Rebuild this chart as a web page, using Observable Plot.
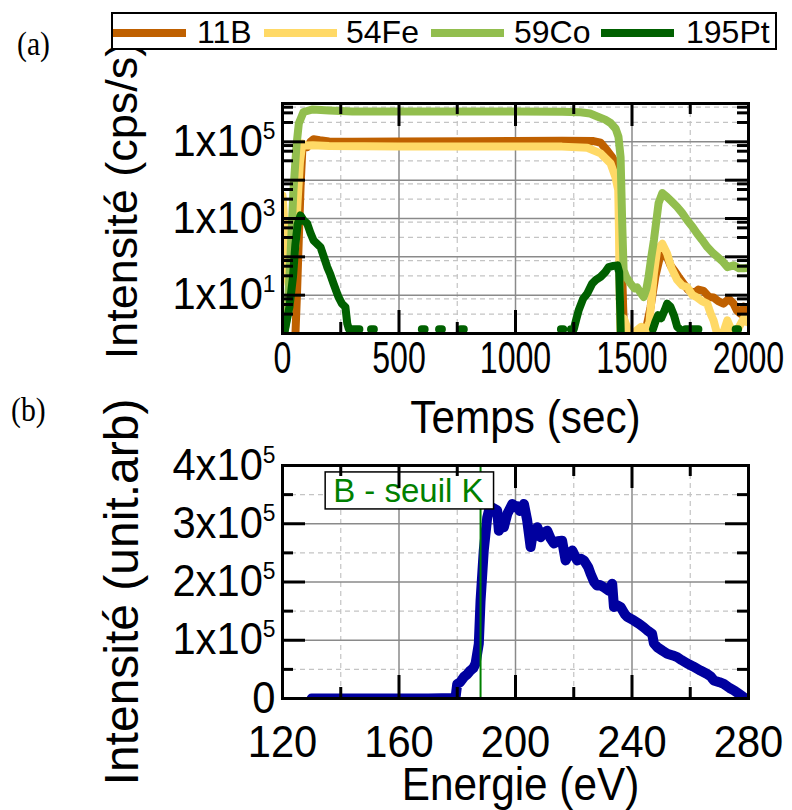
<!DOCTYPE html>
<html><head><meta charset="utf-8">
<script src="https://cdn.jsdelivr.net/npm/d3@7"></script>
<script src="https://cdn.jsdelivr.net/npm/@observablehq/plot@0.6"></script>
<style>
body{margin:0;background:#fff;}
#wrap{position:relative;width:792px;height:810px;overflow:hidden;font-family:"Liberation Sans",Arial,sans-serif;background:#fff;}
#wrap svg{position:absolute;left:0;top:0;overflow:visible;background:transparent;}
.panel{position:absolute;font-family:"Liberation Serif","Times New Roman",serif;font-size:33px;line-height:33px;transform-origin:0 0;transform:scaleX(0.9);}
#legend{position:absolute;left:111px;top:12px;width:662px;height:34px;border:2px solid #000;background:#fff;}
.sw{position:absolute;height:8px;top:15px;}
.lb{position:absolute;top:2px;font-size:32px;line-height:32px;color:#000;white-space:nowrap;}
</style></head>
<body><div id="wrap"></div>
<script>
// ---------- data : panel (a) SIMS depth profile ----------
const seriesNames = ["11B", "54Fe", "59Co", "195Pt"];
const seriesColors = ["#bf6000", "#ffd966", "#92be4e", "#006000"];
const s11B = [[0,0.3],[55,0.8],[62,10],[70,300],[78,8000],[85,6e4],[95,8e4],[106,7.3e4],[120,1e5],[133,1.17e5],[160,1.1e5],[200,1.02e5],[300,1e5],[500,1.02e5],[800,1.03e5],[1000,1.05e5],[1200,1.07e5],[1335,1.05e5],[1365,9.5e4],[1393,6e4],[1415,4e4],[1429,2.75e4],[1440,1.5e4],[1450,2000],[1456,100],[1462,5],[1468,0.5],[1555,0.5],[1565,1.8],[1580,5],[1600,30],[1620,100],[1637,150],[1650,100],[1665,60],[1680,45],[1700,30],[1721,20],[1740,14],[1764,11],[1785,14],[1807,13],[1830,9],[1850,8.7],[1870,7],[1893,6],[1915,8],[1936,6],[1950,4],[1966,3.3],[1980,5],[1995,4]];
const s54Fe = [[0,4000],[5,1500],[10,300],[15,60],[25,20],[40,30],[55,200],[65,3000],[75,3e4],[85,9e4],[100,8e4],[130,8.2e4],[200,7.8e4],[500,7.6e4],[1000,7.6e4],[1200,7.5e4],[1308,7e4],[1365,5e4],[1408,2.75e4],[1429,1.2e4],[1441,5500],[1444,500],[1447,10],[1450,1.2],[1465,2.5],[1478,1.5],[1490,0.8],[1505,0.5],[1520,1.2],[1540,1.5],[1560,1.2],[1575,2],[1594,37],[1608,150],[1630,220],[1651,120],[1670,50],[1694,25],[1715,18],[1737,16],[1760,10],[1780,8.7],[1800,7],[1823,6],[1840,3],[1850,2.2],[1865,1],[1880,0.7],[1895,1.2],[1909,2.2],[1925,1.3],[1940,0.8],[1960,1.5],[1980,2.5],[1995,2]];
const s59Co = [[0,0.6],[12,1.5],[21,3],[34,100],[47,5500],[60,8e4],[70,3e5],[90,6e5],[130,7e5],[200,6.6e5],[300,6.2e5],[500,6.2e5],[800,6.2e5],[1000,6.2e5],[1200,6.1e5],[1279,5.9e5],[1320,5.5e5],[1351,4.6e5],[1385,3.8e5],[1408,3.1e5],[1430,2.2e5],[1442,1.35e5],[1451,4e4],[1458,740],[1464,45],[1475,30],[1494,20],[1510,15],[1522,16],[1535,12],[1550,9],[1562,15],[1571,30],[1583,100],[1594,270],[1614,2500],[1630,4600],[1651,3600],[1670,2800],[1694,2000],[1715,1400],[1737,900],[1760,600],[1780,400],[1800,280],[1823,180],[1845,130],[1866,100],[1890,75],[1909,54],[1936,60],[1960,50],[1979,50],[1995,52]];
const s195Pt = [[0,0.5],[10,1.2],[30,5],[45,30],[55,200],[65,700],[77,1200],[90,900],[106,740],[120,420],[133,270],[163,180],[180,90],[192,54],[205,35],[219,20],[240,9],[255,6],[270,4.9],[278,1.8],[285,1.3],[300,1.3],[315,1.3],[330,1.3],[340,null],[380,1.3],[392,1.3],[400,null],[598,1.3],[610,1.3],[620,null],[672,1.3],[684,1.3],[690,null],[765,1.3],[778,1.3],[785,null],[1195,1.3],[1205,1.3],[1215,null],[1238,1.3],[1250,1.3],[1262,2.5],[1271,4],[1290,8],[1308,11],[1329,20],[1345,25],[1365,30],[1385,40],[1400,54],[1420,58],[1437,60],[1445,40],[1450,3],[1453,0.5],[1460,null],[1590,1.3],[1600,2],[1612,3],[1625,2.5],[1640,4],[1651,6],[1665,5],[1680,3],[1694,1.5],[1705,1.3],[1712,null],[1730,1.3],[1785,1.3],[1790,null],[1945,1.3],[1955,1.3]];
const timeTicks = [0, 500, 1000, 1500, 2000];
const timeMinorTicks = [250, 750, 1250, 1750];
const decadeTicks = [1, 10, 100, 1e3, 1e4, 1e5, 1e6];
const decadeLabelTicks = [10, 1e3, 1e5];
const decadeMinorFactors = [3.2, 5.7, 8];
const decadeGridFactors = [3.2, 8];

// ---------- data : panel (b) B K-edge spectrum ----------
const energy = [130,140,150,160,170,179.4,180,181,182.3,183.5,184.5,185.5,186.3,187.4,188,189.1,190.3,191,192,193.7,194.3,195,196,197.2,198.9,200,200.6,201.5,202.9,204,205.2,206,207.5,208.6,210,210.9,212,213.2,214.5,216,217.2,218.5,219.5,221.2,222.5,223.5,225,225.8,227,228,229,230.3,232,233.2,233.8,235,236.1,237.5,238.4,240.6,242.5,244.1,245.5,246.9,247.5,248.7,250.5,252.1,254,255.5,257,259,261,263.5,265.8,267,268.1,270,271.5,273.5,275,277,278.4];
const intensity = [0,0,0,0,0,0.01e5,0.25e5,0.28e5,0.37e5,0.42e5,0.48e5,0.52e5,0.6e5,0.94e5,1.68e5,2.54e5,3.11e5,3.25e5,3.28e5,3.23e5,2.88e5,2.95e5,2.94e5,3.17e5,3.34e5,3.28e5,3.3e5,3.22e5,3.34e5,3.06e5,2.6e5,2.85e5,2.94e5,2.77e5,2.85e5,2.88e5,2.75e5,2.66e5,2.7e5,2.71e5,2.37e5,2.5e5,2.54e5,2.37e5,2.4e5,2.37e5,2.25e5,2.14e5,2.0e5,1.94e5,1.95e5,1.91e5,1.85e5,1.97e5,1.57e5,1.6e5,1.57e5,1.45e5,1.4e5,1.34e5,1.28e5,1.22e5,1.16e5,1.11e5,0.95e5,0.88e5,0.82e5,0.77e5,0.74e5,0.71e5,0.66e5,0.6e5,0.55e5,0.48e5,0.42e5,0.38e5,0.31e5,0.28e5,0.25e5,0.18e5,0.14e5,0.07e5,0.02e5];
const edgeEnergy = [188];
const edgeLabel = ["B - seuil K"];
const energyTicks = [120, 160, 200, 240, 280];
const energyMinorTicks = [140, 180, 220, 260];
const intTicks = [0, 1e5, 2e5, 3e5, 4e5];
const intMinorTicks = [0.5e5, 1.5e5, 2.5e5, 3.5e5];

// ---------- layout ----------
const W = 792, H = 810;
const A = {top: 103, bottom: 333, left: 282, right: 748};
const B = {top: 465, bottom: 698, left: 282, right: 748};
const FONT = '"Liberation Sans", Arial, sans-serif';
const MAJ = 23, MIN = 11;
// distinct sizes identify the text groups for post-processing
const XTICK_A_FS = 44, TICK_FS = 43.9, TITLE_FS = 47, YTITLE_FS = 45, YTITLE_B_FS = 48, EDGE_FS = 33;

function frameTicks(P, xMaj, xMin, yMaj, yMin) {
  const iw = P.right - P.left, ih = P.bottom - P.top;
  const o = {stroke: "black", strokeWidth: 3};
  return [
    Plot.tickX(xMaj, {x: d => d, insetTop: ih - MAJ, ...o}),
    Plot.tickX(xMaj, {x: d => d, insetBottom: ih - MAJ, ...o}),
    Plot.tickX(xMin, {x: d => d, insetTop: ih - MIN, ...o}),
    Plot.tickX(xMin, {x: d => d, insetBottom: ih - MIN, ...o}),
    Plot.tickY(yMaj, {y: d => d, insetRight: iw - MAJ, ...o}),
    Plot.tickY(yMaj, {y: d => d, insetLeft: iw - MAJ, ...o}),
    Plot.tickY(yMin, {y: d => d, insetRight: iw - MIN, ...o}),
    Plot.tickY(yMin, {y: d => d, insetLeft: iw - MIN, ...o})
  ];
}

// ---------- panel (a) ----------
const rowsA = [];
[s11B, s54Fe, s59Co, s195Pt].forEach((s, k) => s.forEach(([t, v]) => rowsA.push({t, v, s: seriesNames[k]})));
const logMinor = decadeTicks.slice(0, -1).flatMap(d => decadeMinorFactors.map(f => d * f));
const logGrid = decadeTicks.slice(0, -1).flatMap(d => decadeGridFactors.map(f => d * f));
const gridSolid = {stroke: "#8a8a8a", strokeWidth: 1.5, strokeOpacity: 1};
const gridDash = {stroke: "#c4c4c4", strokeWidth: 1.2, strokeDasharray: "5,4", strokeOpacity: 1};

const plotA = Plot.plot({
  width: W, height: H,
  marginTop: A.top, marginBottom: H - A.bottom, marginLeft: A.left, marginRight: W - A.right,
  style: {fontFamily: FONT, background: "transparent", overflow: "visible"},
  x: {domain: [0, 2000], axis: null},
  y: {type: "log", domain: [1, 1e6], axis: null},
  color: {domain: seriesNames, range: seriesColors},
  marks: [
    Plot.ruleX(timeMinorTicks, {x: d => d, ...gridDash}),
    Plot.ruleY(logGrid, {y: d => d, ...gridDash}),
    Plot.ruleX(timeTicks.slice(1, -1), {x: d => d, ...gridSolid}),
    Plot.ruleY(decadeTicks.slice(1, -1), {y: d => d, ...gridSolid}),
    Plot.line(rowsA, {x: "t", y: "v", z: "s", stroke: "s", strokeWidth: 8, strokeLinejoin: "round", strokeLinecap: "round", clip: true}),
    ...frameTicks(A, timeTicks, timeMinorTicks, decadeTicks, logMinor),
    Plot.frame({stroke: "black", strokeWidth: 3}),
    Plot.text(timeTicks, {x: d => d, text: d => String(d), frameAnchor: "bottom", textAnchor: "middle", lineAnchor: "top", dy: 8, fontSize: XTICK_A_FS}),
    Plot.text(decadeLabelTicks, {y: d => d, text: d => "1x10^" + Math.round(Math.log10(d)), frameAnchor: "left", textAnchor: "end", lineAnchor: "middle", dx: -7, fontSize: TICK_FS}),
    Plot.text(["Temps (sec)"], {frameAnchor: "bottom", textAnchor: "middle", lineAnchor: "top", dx: 10, dy: 66, fontSize: TITLE_FS}),
    Plot.text(["Intensité (cps/s)"], {frameAnchor: "left", rotate: -90, textAnchor: "middle", lineAnchor: "middle", dx: -160, dy: -18, fontSize: YTITLE_FS})
  ]
});

// ---------- panel (b) ----------
const rowsB = energy.map((e, i) => ({e, v: intensity[i]}));
const plotB = Plot.plot({
  width: W, height: H,
  marginTop: B.top, marginBottom: H - B.bottom, marginLeft: B.left, marginRight: W - B.right,
  style: {fontFamily: FONT, background: "transparent", overflow: "visible"},
  x: {domain: [120, 280], axis: null},
  y: {domain: [0, 4e5], axis: null},
  marks: [
    Plot.ruleX(energyMinorTicks, {x: d => d, ...gridDash}),
    Plot.ruleY(intMinorTicks, {y: d => d, ...gridDash}),
    Plot.ruleX(energyTicks.slice(1, -1), {x: d => d, ...gridSolid}),
    Plot.ruleY(intTicks.slice(1, -1), {y: d => d, ...gridSolid}),
    Plot.line(rowsB, {x: "e", y: "v", stroke: "#00009f", strokeWidth: 10, strokeLinejoin: "round", strokeLinecap: "round", clip: true}),
    Plot.ruleX(edgeEnergy, {x: d => d, stroke: "#008000", strokeWidth: 2}),
    Plot.text(edgeLabel, {x: () => edgeEnergy[0], frameAnchor: "top", textAnchor: "end", lineAnchor: "top", dx: 3, dy: 13, fontSize: EDGE_FS, fill: "#008000"}),
    ...frameTicks(B, energyTicks, energyMinorTicks, intTicks, intMinorTicks),
    Plot.frame({stroke: "black", strokeWidth: 3}),
    Plot.text(energyTicks, {x: d => d, text: d => String(d), frameAnchor: "bottom", textAnchor: "middle", lineAnchor: "top", dy: 27, fontSize: TICK_FS}),
    Plot.text(intTicks, {y: d => d, text: d => d === 0 ? "0" : (d / 1e5) + "x10^5", frameAnchor: "left", textAnchor: "end", lineAnchor: "middle", dx: -7, fontSize: TICK_FS}),
    Plot.text(["Energie (eV)"], {frameAnchor: "bottom", textAnchor: "middle", lineAnchor: "top", dx: 5, dy: 68, fontSize: TITLE_FS}),
    Plot.text(["Intensité (unit.arb)"], {frameAnchor: "left", rotate: -90, textAnchor: "middle", lineAnchor: "middle", dx: -160, dy: 10, fontSize: YTITLE_B_FS})
  ]
});

const wrap = document.getElementById("wrap");
wrap.appendChild(plotA);
wrap.appendChild(plotB);

// ---------- text post-processing ----------
function textsOfSize(svg, px) {
  return Array.from(svg.querySelectorAll("text")).filter(t => Math.abs(parseFloat(getComputedStyle(t).fontSize) - px) < 0.05);
}
function condense(el, sx) {
  let t = el.getAttribute("transform");
  if (!t) {
    const x = el.getAttribute("x") || 0, y = el.getAttribute("y") || 0;
    el.removeAttribute("x"); el.removeAttribute("y");
    t = `translate(${x},${y})`;
  }
  el.setAttribute("transform", t + ` scale(${sx},1)`);
}
function superscripts(svg) {
  svg.querySelectorAll("text").forEach(el => {
    const s = el.textContent, i = s.indexOf("^");
    if (i < 0) return;
    const sel = d3.select(el);
    sel.text(null);
    sel.append("tspan").text(s.slice(0, i));
    sel.append("tspan").attr("dy", -17).attr("font-size", 24).text(s.slice(i + 1));
  });
}
for (const svg of [plotA, plotB]) {
  const xa = textsOfSize(svg, XTICK_A_FS), ticks = textsOfSize(svg, TICK_FS), titles = textsOfSize(svg, TITLE_FS);
  superscripts(svg);
  xa.forEach(el => condense(el, 0.73));
  ticks.forEach(el => condense(el, 0.95));
  titles.forEach(el => condense(el, 0.9));
}
// box behind the edge label
textsOfSize(plotB, EDGE_FS).forEach(el => {
  const b = el.getBBox();
  const tr = el.getAttribute("transform");
  const r = d3.select(el.parentNode).insert("rect", () => el)
    .attr("x", b.x - 8).attr("y", b.y).attr("width", b.width + 18).attr("height", b.height)
    .attr("fill", "white").attr("stroke", "black").attr("stroke-width", 1.5);
  if (tr) r.attr("transform", tr);
});

// ---------- legend & panel labels ----------
const legend = document.createElement("div");
legend.id = "legend";
const swX = [0, 151, 318, 488], lbX = [84, 233, 401, 573];
seriesNames.forEach((n, k) => {
  const sw = document.createElement("div");
  sw.className = "sw"; sw.style.left = swX[k] + "px"; sw.style.width = "73px"; sw.style.background = seriesColors[k];
  legend.appendChild(sw);
  const lb = document.createElement("div");
  lb.className = "lb"; lb.style.left = lbX[k] + "px"; lb.textContent = n;
  legend.appendChild(lb);
});
wrap.appendChild(legend);
[["(a)", 17, 28], ["(b)", 11, 394]].forEach(([t, x, y]) => {
  const d = document.createElement("div");
  d.className = "panel"; d.textContent = t; d.style.left = x + "px"; d.style.top = y + "px";
  wrap.appendChild(d);
});
</script></body></html>
